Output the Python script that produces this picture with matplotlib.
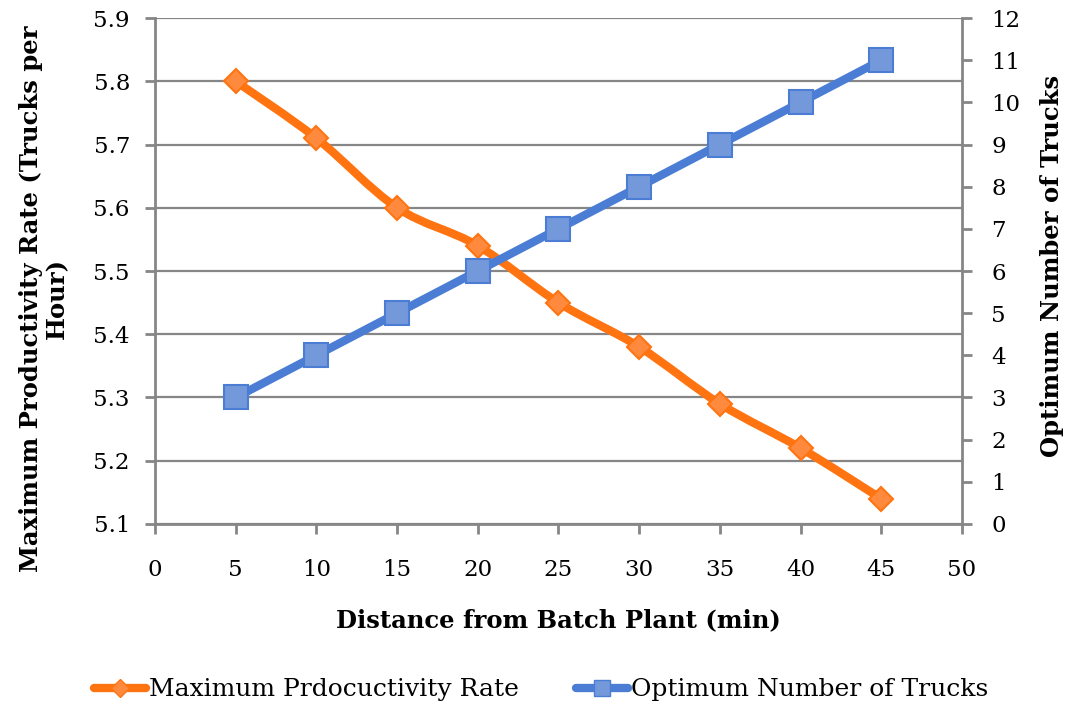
import matplotlib
matplotlib.use("Agg")
import matplotlib.pyplot as plt
from matplotlib.path import Path
from matplotlib.patches import PathPatch
from matplotlib.lines import Line2D

distance = [5, 10, 15, 20, 25, 30, 35, 40, 45]
productivity = [5.80, 5.71, 5.60, 5.54, 5.45, 5.38, 5.29, 5.22, 5.14]
trucks = [3, 4, 5, 6, 7, 8, 9, 10, 11]
x_ticks = [0, 5, 10, 15, 20, 25, 30, 35, 40, 45, 50]
left_ticks = [5.1, 5.2, 5.3, 5.4, 5.5, 5.6, 5.7, 5.8, 5.9]
right_ticks = list(range(0, 13))

ORANGE = "#FF7410"
ORANGE_FILL = "#FF8A3D"
BLUE = "#4A7DD3"
BLUE_FILL = "#7399DB"
GRAY = "#868686"

plt.rcParams['font.family'] = ['DejaVu Serif']


def smooth_path(xs, ys):
    pts = list(zip(xs, ys))
    verts = [pts[0]]
    codes = [Path.MOVETO]
    n = len(pts)
    for i in range(n - 1):
        p0 = pts[i - 1] if i > 0 else pts[i]
        p1 = pts[i]
        p2 = pts[i + 1]
        p3 = pts[i + 2] if i + 2 < n else pts[i + 1]
        c1 = (p1[0] + (p2[0] - p0[0]) / 6, p1[1] + (p2[1] - p0[1]) / 6)
        c2 = (p2[0] - (p3[0] - p1[0]) / 6, p2[1] - (p3[1] - p1[1]) / 6)
        verts += [c1, c2, p2]
        codes += [Path.CURVE4] * 3
    return Path(verts, codes)


fig = plt.figure(figsize=(10.71, 7.04), dpi=100)
ax = fig.add_axes([0.1447, 0.2557, 0.7535, 0.7187])
ax2 = ax.twinx()

ax.set_xlim(0, 50)
ax.set_ylim(5.1, 5.9)
ax2.set_ylim(0, 12)

ax.set_xticks(x_ticks)
ax.set_yticks(left_ticks)
ax.set_yticklabels([f"{v:.1f}" for v in left_ticks])
ax2.set_yticks(right_ticks)

for a in (ax, ax2):
    for s in a.spines.values():
        s.set_visible(False)
    a.tick_params(colors=GRAY, labelcolor="black", labelsize=16.5, width=2, length=7, direction="out")
ax.tick_params(axis='x', pad=18)
ax.tick_params(axis='y', pad=11)
ax2.tick_params(axis='y', pad=14)

ax.spines['left'].set_visible(True)
ax.spines['bottom'].set_visible(True)
ax.spines['left'].set_color(GRAY)
ax.spines['bottom'].set_color(GRAY)
ax.spines['left'].set_linewidth(2)
ax.spines['bottom'].set_linewidth(2)
ax2.spines['right'].set_visible(True)
ax2.spines['right'].set_color(GRAY)
ax2.spines['right'].set_linewidth(2)

ax.grid(axis='y', color=GRAY, linewidth=1.6)
ax.set_axisbelow(True)

# orange series (left axis)
ax.add_patch(PathPatch(smooth_path(distance, productivity), fill=False,
                       edgecolor=ORANGE, linewidth=6, capstyle='round', joinstyle='round', zorder=3))
ax.plot(distance, productivity, linestyle='none', marker='D', markersize=12,
        markerfacecolor=ORANGE_FILL, markeredgecolor=ORANGE, markeredgewidth=1.5, zorder=4)

# blue series (right axis)
ax2.add_patch(PathPatch(smooth_path(distance, trucks), fill=False,
                        edgecolor=BLUE, linewidth=6, capstyle='round', joinstyle='round', zorder=3))
ax2.plot(distance, trucks, linestyle='none', marker='s', markersize=17,
         markerfacecolor=BLUE_FILL, markeredgecolor=BLUE, markeredgewidth=1.5, zorder=4)

ax.set_xlabel("Distance from Batch Plant (min)", fontsize=17.5, fontweight='bold', labelpad=20)
ax.set_ylabel("Maximum Productivity Rate (Trucks per\nHour)", fontsize=17.5, fontweight='bold',
              linespacing=1.1)
ax.yaxis.set_label_coords(-0.107, 0.445)
ax2.set_ylabel("Optimum Number of Trucks", fontsize=17.5, fontweight='bold')
ax2.yaxis.set_label_coords(1.097, 0.51)

handles = [
    Line2D([], [], color=ORANGE, linewidth=6, marker='D', markersize=9,
           markerfacecolor=ORANGE_FILL, markeredgecolor=ORANGE, solid_capstyle='round'),
    Line2D([], [], color=BLUE, linewidth=6, marker='s', markersize=11,
           markerfacecolor=BLUE_FILL, markeredgecolor=BLUE, solid_capstyle='round'),
]
fig.legend(handles, ["Maximum Prdocuctivity Rate", "Optimum Number of Trucks"],
           loc='center', bbox_to_anchor=(0.505, 0.02), ncol=2, frameon=False,
           fontsize=18, handlelength=2.1, handletextpad=0.1, columnspacing=2.3)

fig.savefig("out.png", dpi=100)
